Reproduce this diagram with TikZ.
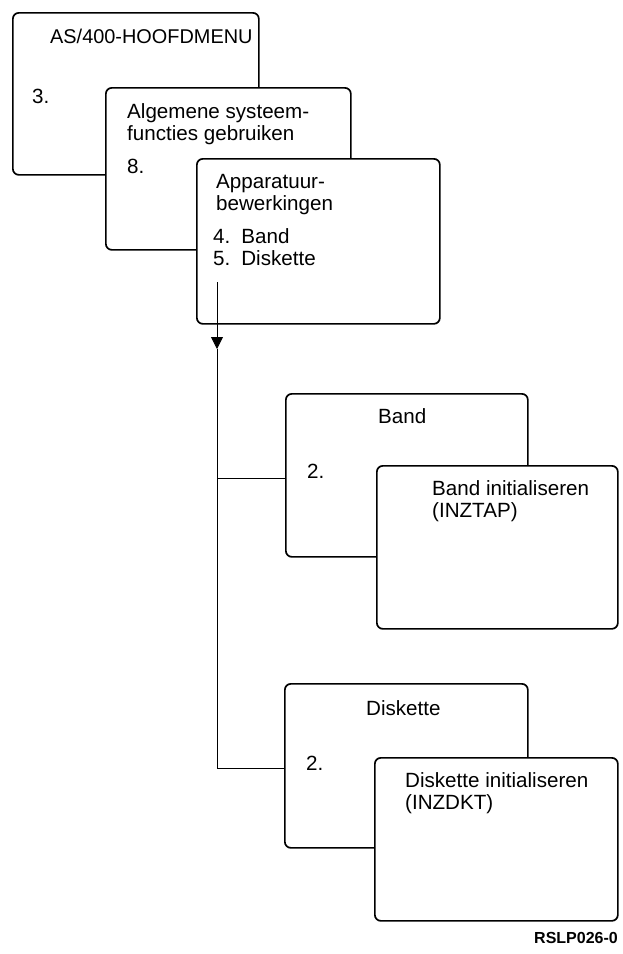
\documentclass[tikz,border=0pt]{standalone}
\usepackage{fontspec}
\setmainfont{Liberation Sans}
\usetikzlibrary{arrows.meta,positioning}

\begin{document}
\begin{tikzpicture}[x=1pt,y=-1pt]
        \tikzstyle{screen}=[draw,fill=white,line width=1.7pt,rounded corners=6pt,anchor=north west,inner sep=0pt]
        \tikzstyle{txt}=[anchor=base west,inner sep=0pt,font=\fontsize{20.6}{23}\selectfont]
        \useasboundingbox (0,0) rectangle (622,954);
        % Main menu screens
        \node[screen,minimum width=246pt,minimum height=162pt] (hoofd) at (12,12) {};
        \node[txt,font=\fontsize{19.9}{23}\selectfont] (hoofdtitel) at (50,43) {AS/400-HOOFDMENU};
        \node[txt] (hoofdkeuze) at (32,103) {3.};
        \node[screen,minimum width=245pt,minimum height=162pt] (alg) at (105,87) {};
        \node[txt] (algtitel1) at (127,118) {Algemene systeem-};
        \node[txt] (algtitel2) at (127,140) {functies gebruiken};
        \node[txt] (algkeuze) at (127,173) {8.};
        \node[screen,minimum width=243pt,minimum height=165pt] (app) at (196,158) {};
        \node[txt] (apptitel1) at (216,188) {Apparatuur-};
        \node[txt] (apptitel2) at (216,210) {bewerkingen};
        \node[txt] (appband) at (213,243) {4.\hspace{11pt}Band};
        \node[txt] (appdisk) at (213,265) {5.\hspace{11pt}Diskette};
        % Band screens
        \node[screen,minimum width=242pt,minimum height=163pt] (band) at (285,393) {};
        \node[txt] (bandtitel) at (378,423) {Band};
        \node[txt] (bandkeuze) at (307,478) {2.};
        \node[screen,minimum width=241pt,minimum height=163pt] (bandinit) at (376,465) {};
        \node[txt] (bandinit1) at (432,495) {Band initialiseren};
        \node[txt] (bandinit2) at (432,517) {(INZTAP)};
        % Diskette screens
        \node[screen,minimum width=243pt,minimum height=164pt] (disk) at (284,683) {};
        \node[txt] (disktitel) at (366,715) {Diskette};
        \node[txt] (diskkeuze) at (306,770) {2.};
        \node[screen,minimum width=243pt,minimum height=163pt] (diskinit) at (374,757) {};
        \node[txt] (diskinit1) at (405,787) {Diskette initialiseren};
        \node[txt] (diskinit2) at (405,809) {(INZDKT)};
        % Connector
        \coordinate (start) at (217,282);
        \coordinate (tip) at (217,349);
        \coordinate (bandtak) at (217,478);
        \coordinate (disktak) at (217,768);
        \draw[line width=0.8pt,-{Triangle[length=12pt,width=12pt]}] (start) -- (tip);
        \draw[line width=0.8pt] (tip) -- (disktak) -- (disk.west |- disktak);
        \draw[line width=0.8pt] (bandtak) -- (band.west |- bandtak);
        \node[anchor=base east,inner sep=0pt,font=\fontsize{16}{18}\selectfont\bfseries] (figid) at (618,943) {RSLP026-0};
    \end{tikzpicture}
\end{document}
